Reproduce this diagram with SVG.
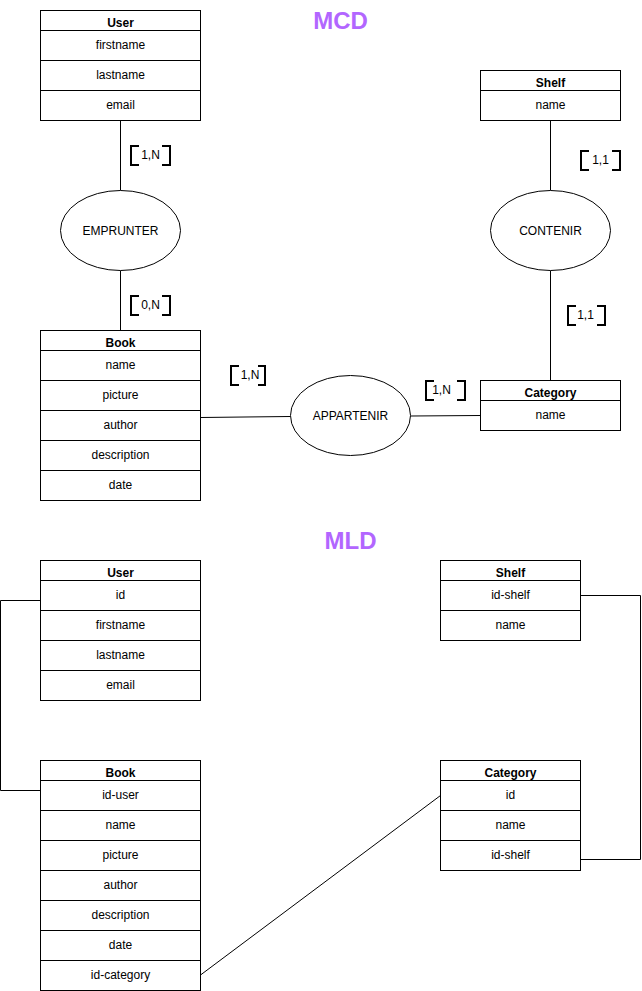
<svg xmlns="http://www.w3.org/2000/svg" width="642" height="991" viewBox="0 0 642 991">
  <style>
    .box { fill: #ffffff; stroke: #000000; stroke-width: 1; }
    .sep { stroke: #000000; stroke-width: 1; }
    .head { font-family: "Liberation Sans", Arial, sans-serif; font-size: 12px; font-weight: bold; fill: #000000; text-anchor: middle; }
    .attr { font-family: "Liberation Sans", Arial, sans-serif; font-size: 12px; fill: #000000; text-anchor: middle; }
    .rel { fill: #ffffff; stroke: #000000; stroke-width: 1; }
    .wire { fill: none; stroke: #000000; stroke-width: 1; }
    .brk { fill: none; stroke: #000000; stroke-width: 2; }
    .card { font-family: "Liberation Sans", Arial, sans-serif; font-size: 12px; fill: #000000; text-anchor: middle; }
    .title { font-family: "Liberation Sans", Arial, sans-serif; font-size: 24px; font-weight: bold; fill: #b266ff; text-anchor: middle; }
  </style>

  <!-- section titles -->
  <text class="title" x="340.5" y="28.5">MCD</text>
  <text class="title" x="350.5" y="548.5">MLD</text>

  <!-- connectors -->
  <g id="connectors">
    <!-- MCD -->
    <line class="wire" x1="120.5" y1="120.5" x2="120.5" y2="190.5"/>
    <line class="wire" x1="120.5" y1="270.5" x2="120.5" y2="330.5"/>
    <line class="wire" x1="550.5" y1="120.5" x2="550.5" y2="190.5"/>
    <line class="wire" x1="550.5" y1="270.5" x2="550.5" y2="380.5"/>
    <line class="wire" x1="200.5" y1="417.5" x2="290.5" y2="416.5"/>
    <line class="wire" x1="410.5" y1="416" x2="480.5" y2="415.5"/>
    <!-- MLD -->
    <path class="wire" d="M40.5,600.5 H0.5 V790.5 H40.5"/>
    <path class="wire" d="M580.5,595.5 H640.5 V859.5 H580.5"/>
    <line class="wire" x1="200.5" y1="975" x2="440.5" y2="795.5"/>

    <!-- cardinalities -->
    <g id="card-user-emprunter">
      <path class="brk" d="M139,146 H131 V165 H139 M162,146 H170 V165 H162"/>
      <text class="card" x="150.5" y="159">1,N</text>
    </g>
    <g id="card-book-emprunter">
      <path class="brk" d="M139,296 H131 V315 H139 M162,296 H170 V315 H162"/>
      <text class="card" x="150.5" y="309">0,N</text>
    </g>
    <g id="card-shelf-contenir">
      <path class="brk" d="M589,151 H581 V170 H589 M612,151 H620 V170 H612"/>
      <text class="card" x="600.5" y="164">1,1</text>
    </g>
    <g id="card-category-contenir">
      <path class="brk" d="M576,306 H568 V325 H576 M597,306 H605 V325 H597"/>
      <text class="card" x="585.5" y="319">1,1</text>
    </g>
    <g id="card-book-appartenir">
      <path class="brk" d="M239,366 H231 V385 H239 M258,366 H265 V385 H258"/>
      <text class="card" x="250" y="379">1,N</text>
    </g>
    <g id="card-category-appartenir">
      <path class="brk" d="M434,381 H426 V400 H434 M457,381 H465 V400 H457"/>
      <text class="card" x="441.5" y="394">1,N</text>
    </g>
  </g>

  <!-- MCD entities -->
  <g id="mcd-user">
    <rect class="box" x="40.5" y="10.5" width="160" height="110"/>
    <line class="sep" x1="40.5" y1="30.5" x2="200.5" y2="30.5"/>
    <line class="sep" x1="40.5" y1="60.5" x2="200.5" y2="60.5"/>
    <line class="sep" x1="40.5" y1="90.5" x2="200.5" y2="90.5"/>
    <text class="head" x="120.5" y="26.5">User</text>
    <text class="attr" x="120.5" y="49">firstname</text>
    <text class="attr" x="120.5" y="79">lastname</text>
    <text class="attr" x="120.5" y="109">email</text>
  </g>

  <g id="mcd-shelf">
    <rect class="box" x="480.5" y="70.5" width="140" height="50"/>
    <line class="sep" x1="480.5" y1="90.5" x2="620.5" y2="90.5"/>
    <text class="head" x="550.5" y="86.5">Shelf</text>
    <text class="attr" x="550.5" y="109">name</text>
  </g>

  <g id="mcd-book">
    <rect class="box" x="40.5" y="330.5" width="160" height="170"/>
    <line class="sep" x1="40.5" y1="350.5" x2="200.5" y2="350.5"/>
    <line class="sep" x1="40.5" y1="380.5" x2="200.5" y2="380.5"/>
    <line class="sep" x1="40.5" y1="410.5" x2="200.5" y2="410.5"/>
    <line class="sep" x1="40.5" y1="440.5" x2="200.5" y2="440.5"/>
    <line class="sep" x1="40.5" y1="470.5" x2="200.5" y2="470.5"/>
    <text class="head" x="120.5" y="346.5">Book</text>
    <text class="attr" x="120.5" y="369">name</text>
    <text class="attr" x="120.5" y="399">picture</text>
    <text class="attr" x="120.5" y="429">author</text>
    <text class="attr" x="120.5" y="459">description</text>
    <text class="attr" x="120.5" y="489">date</text>
  </g>

  <g id="mcd-category">
    <rect class="box" x="480.5" y="380.5" width="140" height="50"/>
    <line class="sep" x1="480.5" y1="400.5" x2="620.5" y2="400.5"/>
    <text class="head" x="550.5" y="396.5">Category</text>
    <text class="attr" x="550.5" y="419">name</text>
  </g>

  <!-- MCD associations -->
  <g id="rel-emprunter">
    <ellipse class="rel" cx="120.5" cy="230.5" rx="60" ry="40"/>
    <text class="attr" x="120.5" y="234.5">EMPRUNTER</text>
  </g>
  <g id="rel-contenir">
    <ellipse class="rel" cx="550.5" cy="230.5" rx="60" ry="40"/>
    <text class="attr" x="550.5" y="234.5">CONTENIR</text>
  </g>
  <g id="rel-appartenir">
    <ellipse class="rel" cx="350.5" cy="415.5" rx="60" ry="40"/>
    <text class="attr" x="350.5" y="419.5">APPARTENIR</text>
  </g>

  <!-- MLD tables -->
  <g id="mld-user">
    <rect class="box" x="40.5" y="560.5" width="160" height="140"/>
    <line class="sep" x1="40.5" y1="580.5" x2="200.5" y2="580.5"/>
    <line class="sep" x1="40.5" y1="610.5" x2="200.5" y2="610.5"/>
    <line class="sep" x1="40.5" y1="640.5" x2="200.5" y2="640.5"/>
    <line class="sep" x1="40.5" y1="670.5" x2="200.5" y2="670.5"/>
    <text class="head" x="120.5" y="576.5">User</text>
    <text class="attr" x="120.5" y="599">id</text>
    <text class="attr" x="120.5" y="629">firstname</text>
    <text class="attr" x="120.5" y="659">lastname</text>
    <text class="attr" x="120.5" y="689">email</text>
  </g>

  <g id="mld-shelf">
    <rect class="box" x="440.5" y="560.5" width="140" height="80"/>
    <line class="sep" x1="440.5" y1="580.5" x2="580.5" y2="580.5"/>
    <line class="sep" x1="440.5" y1="610.5" x2="580.5" y2="610.5"/>
    <text class="head" x="510.5" y="576.5">Shelf</text>
    <text class="attr" x="510.5" y="599">id-shelf</text>
    <text class="attr" x="510.5" y="629">name</text>
  </g>

  <g id="mld-book">
    <rect class="box" x="40.5" y="760.5" width="160" height="230"/>
    <line class="sep" x1="40.5" y1="780.5" x2="200.5" y2="780.5"/>
    <line class="sep" x1="40.5" y1="810.5" x2="200.5" y2="810.5"/>
    <line class="sep" x1="40.5" y1="840.5" x2="200.5" y2="840.5"/>
    <line class="sep" x1="40.5" y1="870.5" x2="200.5" y2="870.5"/>
    <line class="sep" x1="40.5" y1="900.5" x2="200.5" y2="900.5"/>
    <line class="sep" x1="40.5" y1="930.5" x2="200.5" y2="930.5"/>
    <line class="sep" x1="40.5" y1="960.5" x2="200.5" y2="960.5"/>
    <text class="head" x="120.5" y="776.5">Book</text>
    <text class="attr" x="120.5" y="799">id-user</text>
    <text class="attr" x="120.5" y="829">name</text>
    <text class="attr" x="120.5" y="859">picture</text>
    <text class="attr" x="120.5" y="889">author</text>
    <text class="attr" x="120.5" y="919">description</text>
    <text class="attr" x="120.5" y="949">date</text>
    <text class="attr" x="120.5" y="979">id-category</text>
  </g>

  <g id="mld-category">
    <rect class="box" x="440.5" y="760.5" width="140" height="110"/>
    <line class="sep" x1="440.5" y1="780.5" x2="580.5" y2="780.5"/>
    <line class="sep" x1="440.5" y1="810.5" x2="580.5" y2="810.5"/>
    <line class="sep" x1="440.5" y1="840.5" x2="580.5" y2="840.5"/>
    <text class="head" x="510.5" y="776.5">Category</text>
    <text class="attr" x="510.5" y="799">id</text>
    <text class="attr" x="510.5" y="829">name</text>
    <text class="attr" x="510.5" y="859">id-shelf</text>
  </g>
</svg>
